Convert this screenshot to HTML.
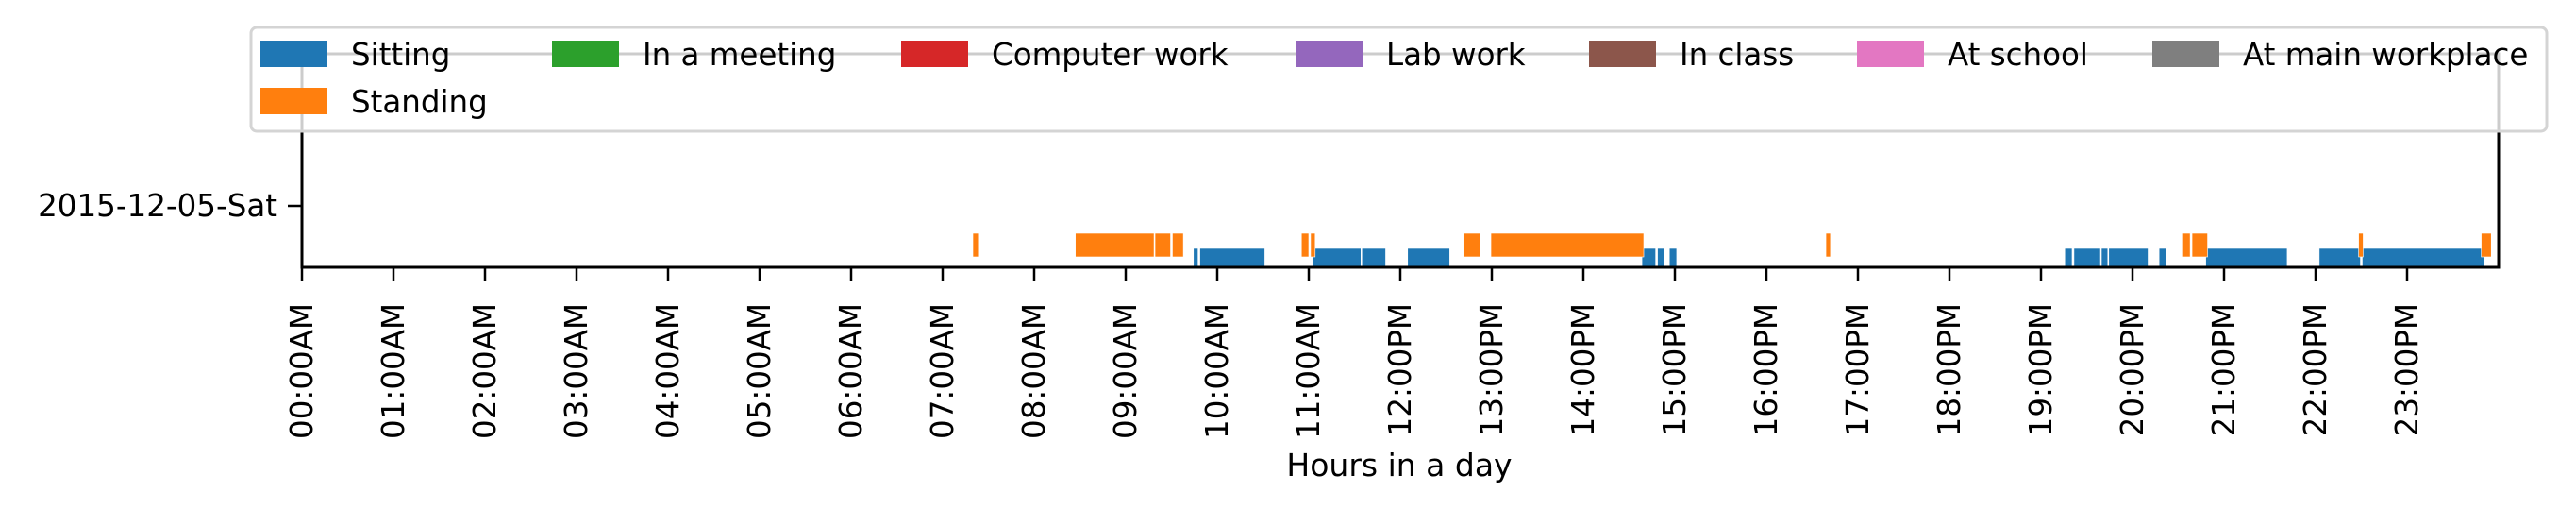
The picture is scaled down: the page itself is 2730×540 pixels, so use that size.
<!DOCTYPE html>
<html><head><meta charset="utf-8"><style>
html,body{margin:0;padding:0;background:#fff;}
svg{display:block;font-family:"DejaVu Sans","Liberation Sans",sans-serif;}
</style></head><body>
<svg id="chart" width="2730" height="540" viewBox="0 0 2730 540" xmlns="http://www.w3.org/2000/svg">
<g id="marks"></g>
<g id="axes"></g>
<g id="legend"></g>
</svg>
<script>
const sittingStarts = [9.74, 9.81, 11.04, 11.58, 12.08, 14.64, 14.81, 14.94, 19.26, 19.36, 19.66, 19.74, 20.29, 20.80, 22.04, 22.51];
const sittingEnds   = [9.79, 10.52, 11.57, 11.84, 12.54, 14.79, 14.88, 15.02, 19.34, 19.65, 19.73, 20.17, 20.37, 21.69, 22.49, 23.84];
const standingStarts = [7.33, 8.45, 9.32, 9.51, 10.92, 11.02, 12.69, 12.99, 16.65, 20.54, 20.65, 22.47, 23.81];
const standingEnds   = [7.39, 9.31, 9.49, 9.63, 11.00, 11.07, 12.87, 14.66, 16.70, 20.63, 20.82, 22.52, 23.92];
const hourTicks = [0,1,2,3,4,5,6,7,8,9,10,11,12,13,14,15,16,17,18,19,20,21,22,23];
const hourLabels = ["00:00AM","01:00AM","02:00AM","03:00AM","04:00AM","05:00AM","06:00AM","07:00AM","08:00AM","09:00AM","10:00AM","11:00AM","12:00PM","13:00PM","14:00PM","15:00PM","16:00PM","17:00PM","18:00PM","19:00PM","20:00PM","21:00PM","22:00PM","23:00PM"];
const dayLabels = ["2015-12-05-Sat"];
const legendLabels = ["Sitting","In a meeting","Computer work","Lab work","In class","At school","At main workplace","Standing"];
const legendColors = ["#1f77b4","#2ca02c","#d62728","#9467bd","#8c564b","#e377c2","#7f7f7f","#ff7f0e"];

const NS = "http://www.w3.org/2000/svg";
const L = 320, R = 2648, T = 57, B = 283;
function xScale(h){ return L + (h/24)*(R-L); }
function mk(tag, attrs, parent){ const e=document.createElementNS(NS,tag); for(const k in attrs) e.setAttribute(k, attrs[k]); parent.appendChild(e); return e; }
const marks = document.getElementById('marks');
const axes = document.getElementById('axes');
const legend = document.getElementById('legend');

sittingStarts.forEach((s,i)=>{
  const r = mk('rect',{x:xScale(s), y:263, width:xScale(sittingEnds[i])-xScale(s), height:B-263, fill:'#1f77b4', stroke:'#fff', 'stroke-width':0.6}, marks);
  
  
});
standingStarts.forEach((s,i)=>{
  const r = mk('rect',{x:xScale(s), y:247, width:xScale(standingEnds[i])-xScale(s), height:25, fill:'#ff7f0e', stroke:'#fff', 'stroke-width':0.6}, marks);
  
  
});

// spines
const sp = [[L,T,L,B],[R,T,R,B],[L,B,R,B],[L,T,R,T]];
sp.forEach((c,i)=>{
  const l = mk('line',{x1:c[0],y1:c[1],x2:c[2],y2:c[3],stroke:'#000','stroke-width':3,'stroke-linecap':'square'}, axes);
  
  
});
hourTicks.forEach((h,i)=>{
  const x = xScale(h);
  const t = mk('line',{x1:x,y1:B,x2:x,y2:B+15,stroke:'#000','stroke-width':2.5}, axes);
  
  
  const tx = mk('text',{x:0,y:0,transform:`translate(${x+11},${321}) rotate(-90)`,'text-anchor':'end','font-size':32.5,fill:'#000'}, axes);
  tx.textContent = hourLabels[i];
  
  
});
dayLabels.forEach((d,i)=>{
  const y = 218;
  const t = mk('line',{x1:L-15,y1:y,x2:L,y2:y,stroke:'#000','stroke-width':2.5}, axes);
  
  
  const tx = mk('text',{x:L-26,y:y+11,'text-anchor':'end','font-size':32.5,fill:'#000'}, axes);
  tx.textContent = d;
  
  
});
const xl = mk('text',{x:1483,y:504,'text-anchor':'middle','font-size':33,fill:'#000'}, axes);
xl.textContent = 'Hours in a day';



// legend
const frame = mk('rect',{x:266,y:29,width:2433,height:110,rx:6,fill:'#fff','fill-opacity':0.8,stroke:'#d4d4d4','stroke-width':3}, legend);


const colX = [276,585,955,1373,1684,1968,2281];
legendLabels.forEach((lab,i)=>{
  const row = i < 7 ? 0 : 1;
  const cx = colX[i % 7];
  const y = row === 0 ? 43 : 93;
  const g = mk('g',{}, legend);
  
  
  mk('rect',{x:cx,y:y,width:71,height:28,fill:legendColors[i]}, g);
  const t = mk('text',{x:cx+96,y:y+26,'font-size':32.5,fill:'#000'}, g);
  t.textContent = lab;
});
</script>
</body></html>
